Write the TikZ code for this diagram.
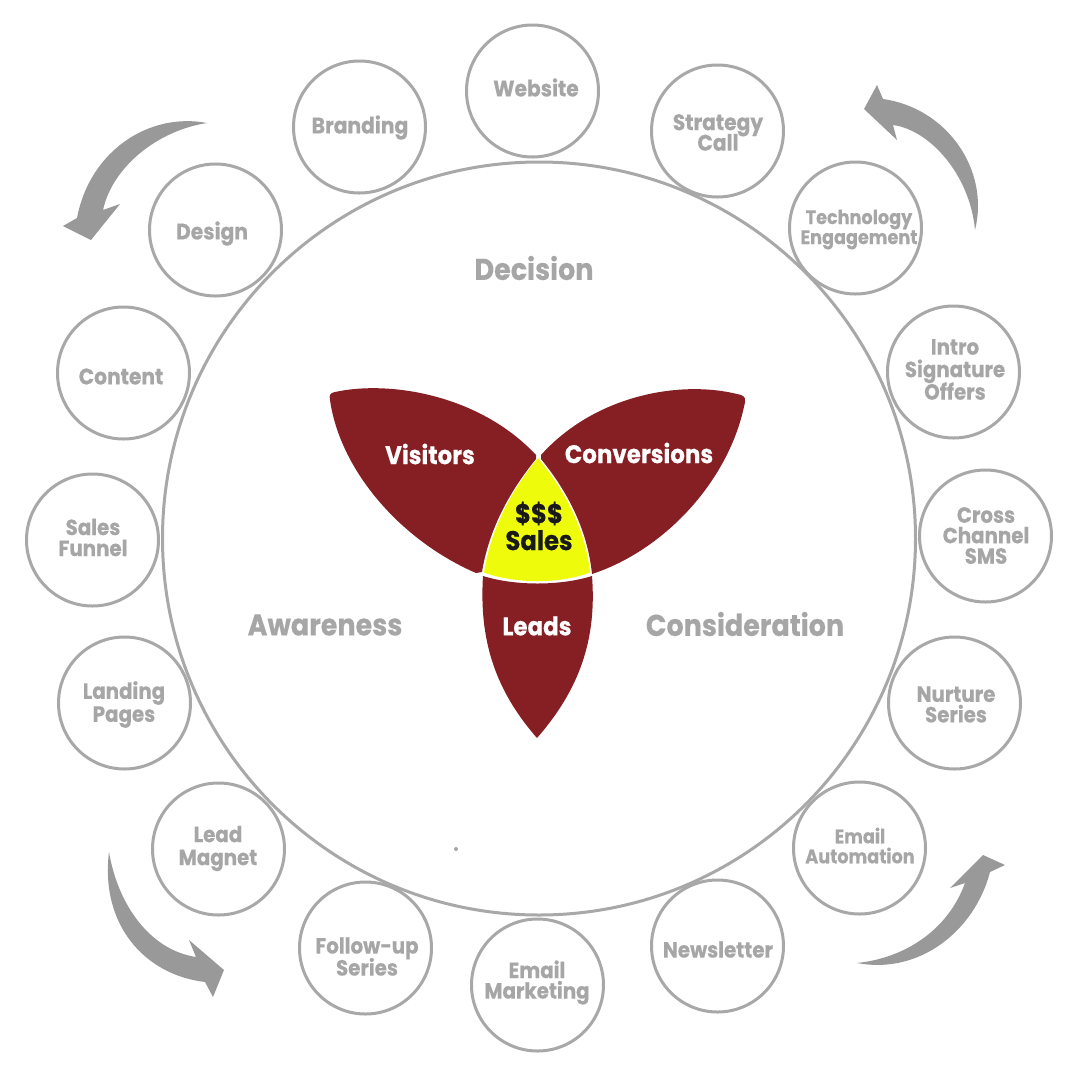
\documentclass[tikz,border=0pt]{standalone}
\usepackage{fontspec}
\setmainfont{Poppins}[FakeStretch=0.9,BoldFeatures={FakeBold=0.35}]
\normallineskiplimit=-100pt
\lineskiplimit=-100pt
\definecolor{ringgray}{HTML}{A8A8A8}
\definecolor{labgray}{HTML}{A6A6A6}
\definecolor{arrowgray}{HTML}{999999}
\definecolor{petal}{HTML}{861F24}
\definecolor{salesy}{HTML}{EEFB0A}
\tikzset{
  x=1pt,y=-1pt,
  ringnode/.style={circle,draw=ringgray,line width=3pt,fill=white,minimum size=132pt,inner sep=0pt,xshift=0.5pt},
  lab/.style={text=labgray,align=center,inner sep=0pt,yshift=-0.5pt},
  big/.style={text=labgray,inner sep=0pt,font=\fontsize{30}{30}\selectfont\bfseries},
  petaltext/.style={text=white,inner sep=0pt,font=\fontsize{25.5}{25}\selectfont\bfseries},
  petalshape/.style={fill=petal,draw=none},
  sweep/.style={fill=arrowgray,draw=none},
}
\newcommand{\ringitem}[8]{%
  \node[ringnode] (#1) at (#2,#3) {};
  \node[lab,font=\fontsize{#6}{#7}\selectfont\bfseries] (#1t) at (#4,#5) {#8};
}
\begin{document}
\begin{tikzpicture}
\useasboundingbox (0,0) rectangle (1080,1080);
\fill[white] (0,0) rectangle (1080,1080);
\node[circle,draw=ringgray,line width=3pt,minimum size=753pt,inner sep=0pt] (main) at (539,538.5) {};
\ringitem{website}{532}{91}{536}{87}{22.5}{22}{Website}
\ringitem{strategy}{717}{131}{718}{132}{22.5}{20.5}{Strategy\\Call}
\ringitem{tech}{855}{228}{859}{229}{19.6}{20}{Technology\\Engagement}
\ringitem{intro}{953}{372}{955}{369}{22}{22.5}{Intro\\Signature\\Offers}
\ringitem{cross}{985}{536}{986}{535}{22}{20.5}{Cross\\Channel\\SMS}
\ringitem{nurture}{954}{703}{956}{704}{22}{20.5}{Nurture\\Series}
\ringitem{emailauto}{859}{848}{860}{845}{19.6}{20}{Email\\Automation}
\ringitem{newsletter}{717}{946}{718}{949}{22}{22}{Newsletter}
\ringitem{emailmkt}{537}{985}{537}{982}{22}{20.5}{Email\\Marketing}
\ringitem{followup}{365}{948}{367}{956}{22}{22}{Follow-up\\Series}
\ringitem{lead}{218}{849}{218}{848}{22}{23}{Lead\\Magnet}
\ringitem{landing}{124}{703}{124}{704}{22}{23}{Landing\\Pages}
\ringitem{funnel}{92}{540}{93}{537}{22}{21}{Sales\\Funnel}
\ringitem{content}{123}{373}{121}{376}{22.5}{22}{Content}
\ringitem{design}{215}{230}{212}{233}{22.5}{22}{Design}
\ringitem{branding}{359}{127}{360}{127}{22.5}{22}{Branding}
\fill[sweep] (207,123) .. controls (150,112) and (90,150) .. (77,218) -- (63,226) -- (91,240) -- (120,204) -- (103,210) .. controls (113,165) and (160,130) .. (207,123) -- cycle;
\fill[sweep] (975,230) .. controls (990,170) and (947,108) .. (883,99) -- (877,85) -- (864,109) -- (897,140) -- (893,125) .. controls (930,130) and (970,175) .. (975,230) -- cycle;
\fill[sweep] (109,852) .. controls (100,925) and (145,975) .. (205,982) -- (213,997) -- (224,970) -- (189,940) -- (196,957) .. controls (150,950) and (118,905) .. (109,852) -- cycle;
\fill[sweep] (857,963) .. controls (920,975) and (975,930) .. (990,872) -- (1005,865) -- (983,855) -- (950,888) -- (965,883) .. controls (948,930) and (905,958) .. (857,963) -- cycle;
\fill[petalshape] (335,392) .. controls (390,380) and (480,395) .. (536,455) -- (536,459) .. controls (505,497) and (488,535) .. (482,572) -- (476,573) .. controls (400,540) and (340,470) .. (330,400) .. controls (329,395) and (330,393) .. (335,392) -- cycle;
\fill[petalshape] (737,394) .. controls (680,380) and (595,395) .. (541,455) -- (541,459) .. controls (572,497) and (588,535) .. (592,574) .. controls (665,550) and (730,480) .. (745,402) .. controls (746,396) and (742,395) .. (737,394) -- cycle;
\fill[petalshape] (483,576) .. controls (515,586) and (560,586) .. (592,576) .. controls (597,640) and (579,690) .. (537,738) .. controls (495,690) and (479,640) .. (483,576) -- cycle;
\fill[salesy] (538,458) .. controls (570,497) and (586,535) .. (590,572.5) .. controls (560,584) and (515,584) .. (484,572.5) .. controls (490,535) and (506,497) .. (538,458) -- cycle;
\node[petaltext] (visitors) at (430,454) {Visitors};
\node[petaltext] (conversions) at (639,453) {Conversions};
\node[petaltext] (leads) at (537,626) {Leads};
\node[text=black!90,align=center,inner sep=0pt,font=\fontsize{27}{27}\selectfont\bfseries] (sales) at (539,526) {\$\$\$\\Sales};
\node[big] (decision) at (534,268) {Decision};
\node[big] (awareness) at (325,625) {Awareness};
\node[big] (consideration) at (745,624) {Consideration};
\fill[gray!70] (456,849) circle (2pt);
\end{tikzpicture}
\end{document}
